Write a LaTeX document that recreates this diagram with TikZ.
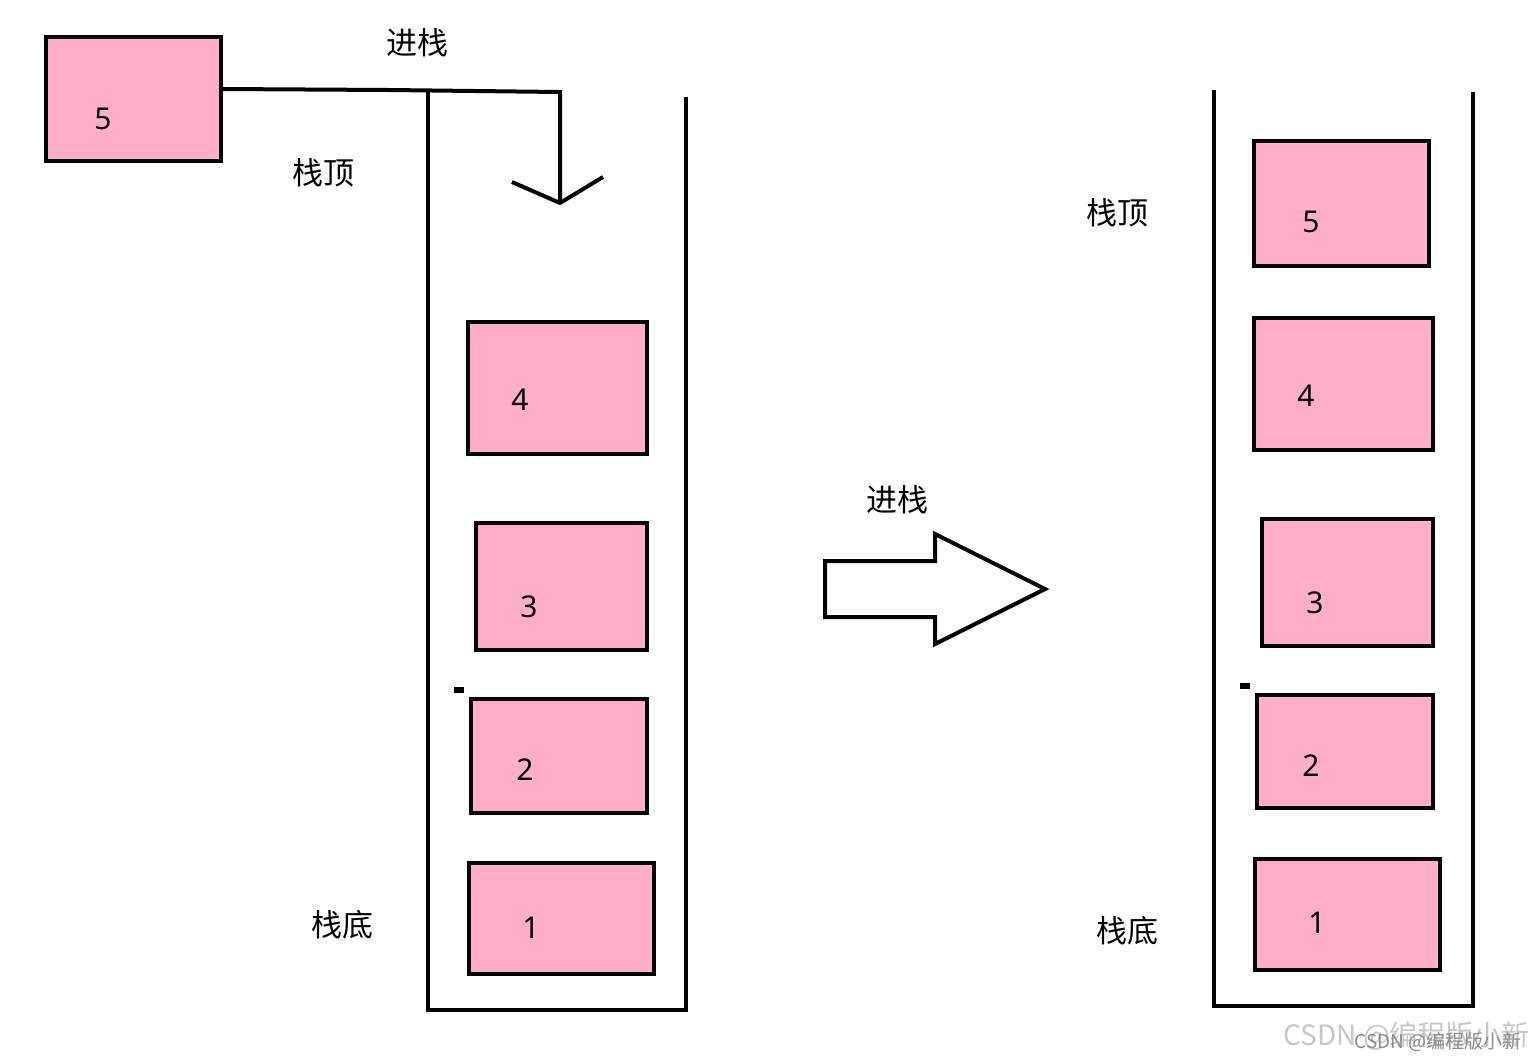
\documentclass[tikz,border=0pt]{standalone}
\usepackage{fontspec}
\setmainfont{Noto Sans}
\newfontfamily\cjk{Noto Sans CJK SC}
\begin{document}
\begin{tikzpicture}[x=0.5pt,y=-0.5pt,
  line/.style={line width=2pt,black},
  elem/.style={draw=black,line width=2pt,fill=stackpink,inner sep=0pt,outer sep=0pt,anchor=north west},
  num/.style={font=\fontsize{15}{18}\selectfont,inner sep=0pt},
  lbl/.style={font=\cjk\fontsize{15.5}{18}\selectfont,inner sep=0pt},
  dotmark/.style={fill=black,draw=none,inner sep=0pt,outer sep=0pt,anchor=north west}]
\definecolor{stackpink}{HTML}{FFAEC9}
\useasboundingbox[fill=white] (0,0) rectangle (1534,1062);
% left stack container
\draw[line] (428,92) -- (428,1010) -- (686,1010) -- (686,97);
% right stack container
\draw[line] (1214,90) -- (1214,1006) -- (1473,1006) -- (1473,92);
% element 5 outside
\node[elem,minimum width=87.5pt,minimum height=62pt] (e5) at (46,37) {};
\node[num] (t5) at (103,119) {5};
% push path
\coordinate (p0) at (223,89);
\coordinate (p1) at (390,90);
\coordinate (p2) at (560,92);
\coordinate (p3) at (560,203);
\coordinate (h1) at (512,182);
\coordinate (h2) at (603,177);
\draw[line] (p0) -- (p1) -- (p2) -- (p3);
\draw[line,line join=round] (h1) -- (p3) -- (h2);
\node[lbl] (push1) at (417,43) {进栈};
\node[lbl] (top1) at (323,173) {栈顶};
\node[lbl] (bot1) at (342,925) {栈底};
% left elements
\node[elem,minimum width=89.5pt,minimum height=66pt] (l4) at (468,322) {};
\node[num] (lt4) at (520,400) {4};
\node[elem,minimum width=85.5pt,minimum height=63.5pt] (l3) at (476,523) {};
\node[num] (lt3) at (529,607) {3};
\node[dotmark,minimum width=5pt,minimum height=3pt] (lm) at (454,687) {};
\node[elem,minimum width=88pt,minimum height=57pt] (l2) at (471,699) {};
\node[num] (lt2) at (525,770) {2};
\node[elem,minimum width=92.5pt,minimum height=55.5pt] (l1) at (469,863) {};
\node[num] (lt1) at (531,928) {1};
% middle arrow
\draw[line,fill=white] (825,561) -- (935,561) -- (935,534) -- (1045,589) -- (935,644) -- (935,617) -- (825,617) -- cycle;
\node[lbl] (push2) at (897,500) {进栈};
% right elements
\node[elem,minimum width=87.5pt,minimum height=62.5pt] (r5) at (1254,141) {};
\node[num] (rt5) at (1311,222) {5};
\node[elem,minimum width=89.5pt,minimum height=66pt] (r4) at (1254,318) {};
\node[num] (rt4) at (1306,396) {4};
\node[elem,minimum width=85.5pt,minimum height=63.5pt] (r3) at (1262,519) {};
\node[num] (rt3) at (1315,603) {3};
\node[dotmark,minimum width=5pt,minimum height=3pt] (rm) at (1240,683) {};
\node[elem,minimum width=88pt,minimum height=56.5pt] (r2) at (1257,695) {};
\node[num] (rt2) at (1311,766) {2};
\node[elem,minimum width=92.5pt,minimum height=55.5pt] (r1) at (1255,859) {};
\node[num] (rt1) at (1317,923) {1};
\node[lbl] (top2) at (1117,213) {栈顶};
\node[lbl] (bot2) at (1127,931) {栈底};
% watermark
\node[font=\cjk\fontsize{14}{16}\selectfont,text=black!22,anchor=east,inner sep=0pt] (wm1) at (1530,1036) {CSDN @编程版小新};
\node[font=\cjk\fontsize{9.5}{11}\selectfont,text=black!45,anchor=east,inner sep=0pt] (wm2) at (1522,1042) {CSDN @编程版小新};
\end{tikzpicture}
\end{document}
